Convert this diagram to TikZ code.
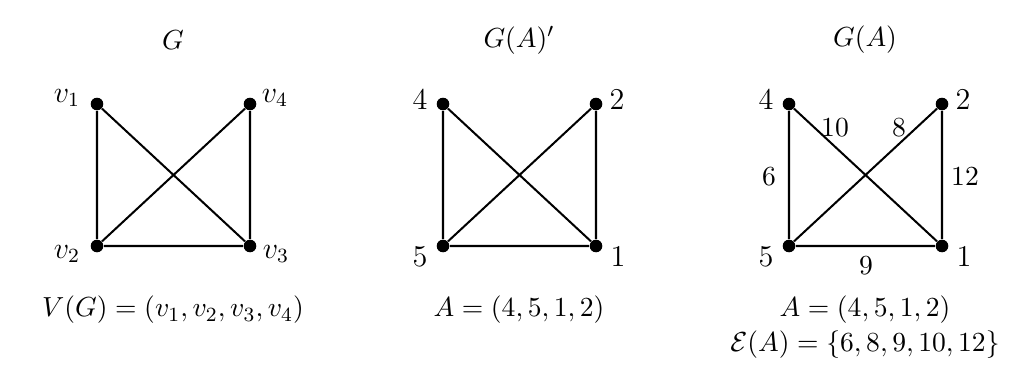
\documentclass[tikz,border=0pt]{standalone}
\begin{document}
\begin{tikzpicture}[x=0.3969pt,y=-0.3969pt,
  every node/.style={font=\fontsize{10.95}{13}\selectfont},
  dot/.style={circle,fill=black,inner sep=0pt,minimum size=5pt},
  edge/.style={line width=0.8pt},
  vlab/.style={font=\fontsize{12}{14}\selectfont},
  wlab/.style={font=\fontsize{10.5}{12}\selectfont,inner sep=1pt}]
\useasboundingbox (0,0) rectangle (1034,388);
% titles
\node (t1) at (173,40) {$G$};
\node (t2) at (519,40) {$G(A)'$};
\node (t3) at (865,40) {$G(A)$};
% graph G
\node[dot] (a1) at (97,104) {};
\node[dot] (a4) at (250,104) {};
\node[dot] (a2) at (97,246) {};
\node[dot] (a3) at (250,246) {};
\draw[edge] (a1) -- (a2) -- (a3) -- (a4) -- (a2);
\draw[edge] (a1) -- (a3);
\node[vlab] (la1) at (67,98) {$v_1$};
\node[vlab] (la4) at (275,98) {$v_4$};
\node[vlab] (la2) at (67,254) {$v_2$};
\node[vlab] (la3) at (276,254) {$v_3$};
% graph G(A)'
\node[dot] (b4) at (443,104) {};
\node[dot] (b2) at (596,104) {};
\node[dot] (b5) at (443,246) {};
\node[dot] (b1) at (596,246) {};
\draw[edge] (b4) -- (b5) -- (b1) -- (b2) -- (b5);
\draw[edge] (b4) -- (b1);
\node[vlab] (lb4) at (420,100) {$4$};
\node[vlab] (lb2) at (617,100) {$2$};
\node[vlab] (lb5) at (420,257) {$5$};
\node[vlab] (lb1) at (618,257) {$1$};
% graph G(A)
\node[dot] (c4) at (789,104) {};
\node[dot] (c2) at (942,104) {};
\node[dot] (c5) at (789,246) {};
\node[dot] (c1) at (942,246) {};
\draw[edge] (c4) -- (c5) -- (c1) -- (c2) -- (c5);
\draw[edge] (c4) -- (c1);
\node[vlab] (lc4) at (766,100) {$4$};
\node[vlab] (lc2) at (963,100) {$2$};
\node[vlab] (lc5) at (766,257) {$5$};
\node[vlab] (lc1) at (964,257) {$1$};
\node[wlab] (w10) at (835,128) {$10$};
\node[wlab] (w8) at (899,128) {$8$};
\node[wlab] (w6) at (769,177) {$6$};
\node[wlab] (w12) at (965,177) {$12$};
\node[wlab] (w9) at (866,266) {$9$};
% bottom texts
\node (s1) at (173,310) {$V(G)=(v_1,v_2,v_3,v_4)$};
\node (s2) at (519,310) {$A=(4,5,1,2)$};
\node (s3) at (865,310) {$A=(4,5,1,2)$};
\node (s4) at (865,345) {$\mathcal{E}(A)=\{6,8,9,10,12\}$};
\end{tikzpicture}
\end{document}
